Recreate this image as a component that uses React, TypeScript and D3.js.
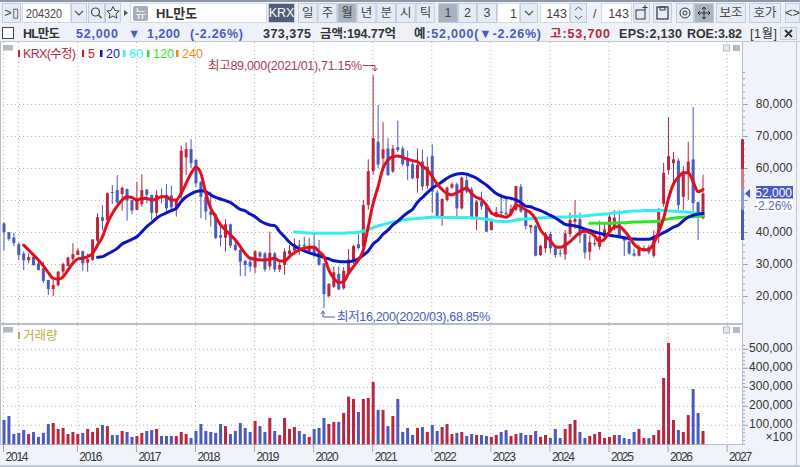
import * as d3 from "d3";

const width = 800;
const height = 467;

// prices in thousand won, one candle per month
const opens = [
  42.7, 39.9, 38.3, 36.2, 33.3, 31.2, 32.3, 30.2, 28.6, 25,
  22.2, 23.4, 27.6, 29.4, 31.6, 32.8, 34, 30.4, 31.3, 37.3,
  44.6, 43.7, 52.5, 53.1, 51.9, 53.4, 50, 46.9, 48.7, 53.3,
  51.6, 46, 51.4, 51.6, 51.4, 47.4, 51.6, 63.3, 65.9, 62.5,
  55.7, 51, 46.4, 45.5, 39, 38.2, 42.4, 36, 34.4, 31,
  30.7, 28.9, 33.6, 33.3, 29.2, 33.3, 28.3, 29.7, 33.1, 34.2,
  36, 36, 33.9, 35.7, 33.9, 30.2, 20, 22.9, 26.9, 22.4,
  27.1, 30.7, 36.2, 35.4, 48.4, 59, 68.2, 63, 66.1, 58.9,
  66.5, 66.1, 63, 61.2, 56.8, 62, 54.4, 63.8, 52.3, 45,
  50, 53.9, 54.9, 47.4, 56.2, 53.3, 44.8, 49.5, 48.7, 40.6,
  44.8, 46.4, 46, 45.8, 46.9, 54.2, 46.7, 41.4, 41.9, 32.8,
  34.9, 39.4, 34.9, 33.4, 33, 39.4, 43.2, 44, 39.4, 33.8,
  36.2, 35.4, 38.5, 40.1, 41.5, 43.2, 38.5, 37, 33.3, 32.6,
  34.5, 35.2, 32.6, 38.5, 48.8, 59.4, 61.5, 62.3, 51, 58.3,
  62.7, 49.3, 44.3,
];
const closes = [
  39.9, 37.8, 36.5, 32.8, 31.2, 32.2, 29.7, 28.1, 24.7, 22.2,
  23.4, 27.6, 30, 32, 33.1, 34.2, 30.2, 31.5, 37.7, 44.6,
  43.5, 52.1, 52.3, 49.2, 53.8, 49.8, 46.7, 50, 53.1, 51.6,
  46, 51.6, 51.2, 47.4, 47.7, 50, 65.4, 65.9, 61.5, 55.2,
  51, 46.4, 45.3, 38.2, 38.2, 42.4, 35.7, 34.4, 30.7, 29.7,
  29.2, 33.9, 32.3, 28.3, 33.5, 28.3, 29.7, 33.9, 34.2, 36.2,
  35.8, 35.5, 35.7, 32.8, 29.7, 20.6, 23.8, 27.4, 22.1, 27.9,
  31.4, 35.6, 35, 48.4, 59, 69.3, 61.1, 65.8, 57.8, 66.1,
  65.6, 61.2, 60.6, 56.8, 61, 54.2, 60.4, 52.6, 45, 50.3,
  53.9, 54.9, 47.4, 57, 52.6, 44.6, 49.5, 48, 40.1, 43.8,
  46.3, 45.9, 45.5, 47.2, 54.4, 46.4, 41.9, 42.2, 32.6, 35.7,
  39.4, 34.9, 32.8, 33.1, 39.6, 43.8, 44, 38.9, 33.6, 36.8,
  36.5, 38.7, 40.8, 44.8, 44.5, 38.5, 37.3, 33.3, 32.6, 35.2,
  35, 33.6, 38.5, 46.7, 58.5, 63.7, 62.7, 48.4, 58.9, 62,
  49, 45.3, 52,
];
const highs = [
  43, 40, 39.8, 36.7, 33.9, 33.3, 32.8, 30.7, 30.7, 25,
  25, 27.9, 30.4, 32.3, 36.5, 34.9, 34.2, 33.3, 37.7, 45.9,
  48.4, 52.4, 54.7, 57.8, 54.2, 53.6, 50, 55.7, 58.1, 53.3,
  51.6, 53.1, 53.6, 55, 54.4, 50.5, 67, 68, 69, 62.8,
  56, 51.2, 52.6, 46, 43.2, 44, 42.6, 37.5, 34.6, 31.2,
  32.3, 34.4, 34, 33.8, 40.1, 33.8, 30.5, 34.9, 36, 38,
  37.5, 38.5, 38.2, 39.6, 37.5, 30.2, 24, 29.2, 29.2, 29,
  34.7, 36, 39.5, 50, 62.7, 89, 79.7, 74.3, 69.3, 67.2,
  74.8, 66.8, 65.4, 62, 66.1, 65.8, 63.5, 67.4, 53, 50.5,
  54.2, 55.5, 55.5, 57.3, 58.5, 54, 50, 52.6, 49, 43.9,
  47.8, 51, 50.5, 48.5, 54.4, 55, 46.7, 42.2, 42.3, 36,
  40, 40.1, 36, 34.6, 40.6, 46, 50, 46, 39.8, 39,
  38, 43.5, 42.5, 46.2, 46.8, 46.8, 38.7, 38, 34.8, 36,
  35.8, 36, 40.5, 47.5, 61.6, 75.9, 65, 63, 60.6, 68.2,
  79, 49.5, 57.9,
];
const lows = [
  34.2, 37.3, 35.6, 31.2, 28.1, 30.2, 29.4, 28, 24, 20.3,
  20, 22.9, 26, 29.2, 30.7, 32.8, 27.9, 27.6, 31, 36.8,
  40.6, 43, 48.7, 48.8, 46.7, 43.5, 45.6, 46.9, 47.9, 49,
  43.7, 44.8, 49, 45.8, 47, 44.8, 50, 57.8, 60, 54,
  44.3, 43.7, 41.7, 37.8, 35.4, 33.9, 35, 34, 26.2, 26.2,
  27.6, 27.1, 31.5, 27.6, 28.1, 27.5, 27.5, 26.6, 32, 33,
  32.8, 34, 34, 32, 29.5, 16.2, 19.5, 22.5, 21.8, 22,
  26.5, 30, 34.5, 34, 47, 58, 60, 60, 57.5, 58.5,
  65, 60.5, 56.2, 56.5, 52.3, 53, 53.5, 46, 44.6, 42,
  49.5, 53.5, 44, 47, 52, 44, 40.6, 47, 40.1, 40.6,
  44.5, 45.2, 45, 45, 46.5, 46, 40.8, 39.6, 32.4, 32.5,
  33.5, 33.3, 32, 32.3, 31.3, 38.5, 41, 36.5, 31.7, 31.2,
  35.5, 34.5, 37, 39.5, 40.5, 38, 32.5, 32.9, 32.3, 32.4,
  34, 33, 32, 36.5, 47.8, 58, 55.6, 47, 47, 50,
  45, 37.5, 44,
];
// volume, same unit as the axis labels divided by 1000
const volumes = [
  128, 149, 54, 60, 75, 54, 65, 39, 60, 107,
  112, 81, 86, 54, 65, 54, 60, 81, 65, 86,
  102, 96, 49, 49, 70, 65, 39, 44, 60, 70,
  75, 81, 44, 44, 44, 44, 65, 54, 33, 70,
  107, 70, 65, 60, 107, 96, 54, 70, 112, 86,
  65, 123, 96, 65, 139, 70, 49, 139, 81, 91,
  70, 54, 39, 81, 86, 139, 107, 118, 118, 165,
  251, 239, 170, 239, 244, 328, 181, 181, 96, 149,
  239, 65, 86, 49, 86, 91, 65, 102, 70, 91,
  107, 54, 60, 65, 44, 54, 49, 49, 44, 39,
  49, 65, 75, 44, 54, 60, 49, 49, 70, 39,
  49, 33, 81, 33, 81, 107, 128, 65, 33, 44,
  54, 65, 33, 39, 49, 49, 33, 28, 65, 81,
  33, 33, 49, 75, 349, 533, 128, 75, 65, 154,
  291, 165, 70,
];

// moving averages, each starts at the month given by its offset
const ma5Start = 4;
const ma5 = [
  35.9, 34.4, 32.8, 31.25, 29.4, 27.3, 25.5, 25.3, 26, 28.1,
  30.2, 31.6, 31.8, 32.3, 33.3, 35.9, 38.5, 42.7, 45.8, 48.1,
  50, 51, 50.8, 50, 50.5, 50.5, 50, 50.3, 51, 51,
  50, 50, 52.1, 55.2, 58.3, 60.2, 58.3, 52.1, 47.4, 44.8,
  42.2, 40.6, 39.1, 37.5, 35.4, 33.3, 31.8, 31.5, 31.25, 31.25,
  31.5, 31.8, 30.9, 30.9, 32.3, 33.5, 34.4, 34.9, 35.2, 35.2,
  33.9, 32.3, 28.1, 25.5, 24.2, 24.5, 27.1, 29.2, 31.25, 34.4,
  41.7, 49, 54.2, 59.9, 62.5, 63.5, 63.75, 63.3, 62.7, 62.3,
  62, 60.6, 59.4, 57.3, 55, 53.3, 52, 51.6, 52.3, 53.1,
  53.7, 52, 50.8, 50.2, 48.4, 46, 45.3, 45, 44.6, 45.8,
  48.4, 47.9, 46.9, 46, 44, 40.6, 38.8, 37.3, 35.4, 35.2,
  35.9, 37, 38.5, 39.8, 40.2, 39.8, 38.8, 37, 37.8, 40.1,
  41.5, 41.7, 40.4, 38.5, 36.2, 34.9, 34.4, 34.6, 36.5, 40.1,
  44.3, 50.5, 55, 57.1, 58.5, 58.5, 55.7, 52.6, 53.3,
];
const ma20Start = 19;
const ma20 = [
  32.1, 32.3, 33.1, 33.9, 34.9, 36.25, 37, 37.7, 38.5, 40.1,
  41.7, 42.9, 44.3, 45.3, 46, 46.7, 47.4, 49.5, 51, 51.9,
  52.6, 52.9, 52.6, 51.6, 50.8, 50.3, 49.8, 49.2, 48.1, 47.1,
  46.6, 45.6, 44.8, 43.5, 42.7, 42.2, 42, 40.1, 38.5, 36.8,
  35.6, 34.8, 34.1, 33.5, 33, 32.6, 32, 31.6, 31, 30.8,
  30.7, 30.7, 31, 31.6, 32.8, 34.1, 36.25, 37.5, 39.3, 40.6,
  42.2, 43.4, 44.8, 46, 47.1, 49.3, 50.8, 52.3, 53.7, 54.7,
  55.7, 56.8, 57.6, 58.1, 58.3, 58.1, 57.5, 56.8, 55.7, 54.7,
  53.3, 52, 51.25, 50.8, 50.5, 50, 49.2, 48.1, 47.9, 47.2,
  46.7, 46, 45.2, 44.4, 43.4, 42.4, 42.1, 41.9, 41.5, 40.9,
  40.5, 40, 39.6, 39.2, 39, 38.75, 38.5, 38.2, 38, 37.8,
  37.7, 37.7, 37.7, 38.3, 39, 39.8, 40.6, 41.5, 42.2, 43.5,
  44.6, 45.2, 45.6, 45.8,
];
const ma60Start = 59;
const ma60 = [
  40.1, 39.9, 39.8, 39.7, 39.6, 39.6, 39.6, 39.6, 39.6, 39.6,
  39.6, 39.8, 39.8, 39.9, 40.3, 40.8, 41.35, 41.9, 42.3, 42.7,
  43.1, 43.4, 43.75, 44, 44.1, 44.2, 44.4, 44.5, 44.6, 44.6,
  44.5, 44.5, 44.5, 44.5, 44.5, 44.5, 44.4, 44.3, 44.2, 44,
  43.75, 43.4, 43.3, 43.3, 43.4, 43.75, 44, 44.1, 44.2, 44.3,
  44.4, 44.5, 44.6, 44.6, 44.7, 44.7, 44.8, 44.9, 44.9, 45,
  45.2, 45.4, 45.5, 45.6, 45.7, 46, 46, 46.3, 46.5, 46.6,
  46.6, 46.7, 46.7, 46.7, 46.7, 46.7, 46.6, 46.5, 46.4, 46.3,
  46.2, 46, 45.7, 45.6,
];
const ma120Start = 119;
const ma120 = [
  42.7, 42.7, 42.7, 42.7, 42.7, 42.8, 42.9, 42.9, 43, 43.1,
  43.1, 43.2, 43.2, 43.3, 43.4, 43.75, 44.1, 44.3, 44.5, 44.6,
  44.7, 44.8, 44.9, 45,
];

const priceTicks = [20, 30, 40, 50, 60, 70, 80];
const priceLabels = [20, 30, 40, 60, 70, 80];
const priceMinorTicks = d3.range(18, 92, 2);
const volumeTicks = [100, 200, 300, 400, 500];
const volumeMinorTicks = d3.range(0, 540, 20);
const yearTickMonths = [0, 15, 27, 39, 51, 63, 75, 87, 99, 111, 123, 135, 147];
const yearLabels = ["2014", "2016", "2017", "2018", "2019", "2020", "2021", "2022", "2023", "2024", "2025", "2026", "2027"];
const periodTabs = ["일", "주", "월", "년", "분", "시", "틱"];

const RED = "#b8263f";
const BLUE = "#4a5bbd";
const GRID = "#b4b4b4";
const FONT = "'Liberation Sans', 'Noto Sans CJK KR', sans-serif";

const x = d3.scaleLinear([0, 142], [4, 703]);
const y = d3.scaleLinear([20, 80], [296, 104]);
const yVol = d3.scaleLinear([0, 500], [444.3, 349.3]);

function maPath(values: number[], start: number) {
  const line = d3.line<number>()
    .x((_, i) => x(i + start))
    .y((d) => y(d))
    .curve(d3.curveMonotoneX);
  return line(values) ?? undefined;
}

function Btn({ bx, w, active, label, dark }: { bx: number; w: number; active?: boolean; label?: string; dark?: boolean }) {
  const fill = dark ? "#4f5d7c" : active ? "#a9b2bf" : "#e6ecf5";
  return (
    <g>
      <rect x={bx + 0.5} y={3.5} width={w - 1} height={19} fill={fill} stroke="#c3ccd9" />
      {label && (
        <text x={bx + w / 2} y={17} textAnchor="middle" fontSize={12.5} fill={dark ? "#fff" : "#444"}>{label}</text>
      )}
    </g>
  );
}

function Input({ bx, w, label }: { bx: number; w: number; label: string }) {
  return (
    <g>
      <rect x={bx + 0.5} y={3.5} width={w - 1} height={19} fill="#fff" stroke="#d4dae4" />
      <text x={bx + w - 3} y={18} textAnchor="end" fontSize={12.5} fill="#444">{label}</text>
    </g>
  );
}

function PaneButtons({ top }: { top: number }) {
  return (
    <g>
      <rect x={723.5} y={top} width={6} height={6} fill="#e4e8ee" stroke="#b5bac2" />
      <rect x={733} y={top} width={7} height={6} fill="#b5bac2" />
    </g>
  );
}

export default function App() {
  const verticalGrid = yearTickMonths.map((m) => x(m) - 1);
  return (
    <svg width={width} height={height} viewBox={`0 0 ${width} ${height}`} fontFamily={FONT}
      style={{ position: "absolute", left: 0, top: 0 }}>
      <rect width={width} height={height} fill="#fff" />

      {/* toolbar */}
      <rect width={width} height={24} fill="#eef2f8" />
      <rect width={width} height={2} fill="#8d99a8" />
      <Btn bx={2} w={19} label=">▯" />
      <rect x={22.5} y={3.5} width={48} height={19} fill="#fff" stroke="#d4dae4" />
      <text x={26} y={18} fontSize={12.5} fill="#444" textLength={36} lengthAdjust="spacingAndGlyphs">204320</text>
      <Btn bx={71} w={16} />
      <path d="M75 11l4 4 4-4" fill="none" stroke="#555" strokeWidth={1.2} />
      <Btn bx={88} w={17} />
      <circle cx={95.5} cy={12} r={4} fill="none" stroke="#444" strokeWidth={1.2} />
      <path d="M98.5 15l3 3" stroke="#444" strokeWidth={1.4} />
      <Btn bx={105} w={16} />
      <path d="M113 6.5l1.9 4 4.3.5-3.2 2.9.9 4.3-3.9-2.2-3.9 2.2.9-4.3-3.2-2.9 4.3-.5z" fill="none" stroke="#444" />
      <path d="M124 10l4 3-4 3z" fill="#555" />
      <rect x={130.5} y={3.5} width={136} height={19} fill="#fff" stroke="#d4dae4" />
      <rect x={133} y={6} width={15} height={15} rx={2} fill="#a5adbb" />
      <text x={140.5} y={17.5} textAnchor="middle" fontSize={12} fill="#fff">뉴</text>
      <text x={156} y={17.5} fontSize={13} fontWeight="bold" fill="#333">HL만도</text>
      <Btn bx={268} w={27} label="KRX" dark />
      {periodTabs.map((t, i) => (
        <Btn key={t} bx={298 + i * 19.6} w={19.6} label={t} active={t === "월"} />
      ))}
      <Btn bx={438} w={20} label="1" active />
      <Btn bx={458} w={19} label="2" />
      <Btn bx={477} w={20} label="3" />
      <Input bx={497} w={23} label="1" />
      <Btn bx={520} w={18} />
      <path d="M525 11l4 4 4-4" fill="none" stroke="#555" strokeWidth={1.2} />
      <Input bx={540} w={30} label="143" />
      <Btn bx={570} w={17} />
      <path d="M575 10l3.500-3 3.500 3M575 16l3.500 3 3.500-3" fill="none" stroke="#555" />
      <text x={593} y={18} fontSize={12.5} fill="#444">/</text>
      <Input bx={601} w={31} label="143" />
      <Btn bx={633} w={17} />
      <rect x={636} y={10} width={9} height={9} fill="none" stroke="#333" />
      <path d="M645 5v5M642.500 7.500h5" stroke="#333" />
      <Btn bx={653} w={19} />
      <rect x={657} y={7} width={11} height={12} fill="none" stroke="#333" strokeWidth={1.2} />
      <rect x={660} y={7} width={5} height={3} fill="none" stroke="#333" />
      <Btn bx={676} w={18} />
      <circle cx={685} cy={13} r={5} fill="none" stroke="#333" />
      <circle cx={685} cy={13} r={2} fill="none" stroke="#333" />
      <Btn bx={694} w={20} active />
      <path d="M704 7v12M698 13h12M702 9l2-2 2 2M702 17l2 2 2-2M700 11l-2 2 2 2M708 11l2 2-2 2" fill="none" stroke="#333" />
      <Btn bx={716} w={30} label="보조" />
      <Btn bx={749} w={32} label="호가" />
      <Btn bx={785} w={15} label="<>" />

      {/* info row */}
      <rect y={24} width={width} height={18} fill="#eef2f8" />
      <rect y={41} width={width} height={1} fill="#c2c9d3" />
      <rect x={2.5} y={27.5} width={11} height={11} fill="#fff" stroke="#444" />
      <g fontSize={12.5} fontWeight="bold" fill="#333">
        <text x={23} y={38} textLength={37}>HL만도</text>
        <text x={76} y={38} fill={BLUE} textLength={42}>52,000</text>
        <text x={128} y={38} fill={BLUE}>▼</text>
        <text x={147} y={38} fill={BLUE} textLength={33}>1,200</text>
        <text x={190} y={38} fill={BLUE} textLength={53}>(-2.26%)</text>
        <text x={263} y={38} textLength={48}>373,375</text>
        <text x={320} y={38} textLength={76}>금액:194.77억</text>
        <text x={414} y={38} textLength={127}>예<tspan fill={BLUE}>:52,000(▼-2.26%)</tspan></text>
        <text x={550} y={38} fill={RED} textLength={60}>고:53,700</text>
        <text x={619} y={38} textLength={63}>EPS:2,130</text>
        <text x={687} y={38} textLength={55}>ROE:3.82</text>
        <text x={750} y={38} fontWeight="normal" textLength={27}>[1월]</text>
      </g>
      <rect x={780.5} y={27.5} width={16} height={12} fill="#e6ecf5" stroke="#c3ccd9" />
      <path d="M785 30l7 7M792 30l-7 7" stroke="#333" strokeWidth={1.8} />

      {/* right scale panel and bottom axis band */}
      <rect x={742} y={42} width={58} height={425} fill="#f0f4fa" />
      <rect y={445} width={width} height={20} fill="#f0f4fa" />
      <rect y={465} width={width} height={2} fill="#c2c9d3" />
      <rect x={742} y={42} width={1} height={403} fill="#b9bfc8" />
      <rect x={796} y={42} width={1} height={425} fill="#c2c9d3" />
      <rect y={323} width={742} height={2} fill="#b9bfc8" />
      <rect y={444} width={742} height={1} fill="#b9bfc8" />
      <rect x={0} y={42} width={1} height={403} fill="#b9bfc8" />

      {/* grid */}
      <g stroke={GRID} strokeDasharray="1 3">
        {priceTicks.map((t) => (
          <line key={t} x1={3} x2={742} y1={y(t) + 0.5} y2={y(t) + 0.5} />
        ))}
        {volumeTicks.map((t) => (
          <line key={t} x1={3} x2={742} y1={yVol(t)} y2={yVol(t)} />
        ))}
        {verticalGrid.map((g) => (
          <g key={g}>
            <line x1={g + 0.5} x2={g + 0.5} y1={42} y2={323} />
            <line x1={g + 0.5} x2={g + 0.5} y1={325} y2={444} />
          </g>
        ))}
        <line x1={18.5} x2={18.5} y1={42} y2={323} />
        <line x1={18.5} x2={18.5} y1={325} y2={444} />
      </g>

      {/* candles */}
      {opens.map((o, i) => {
        const c = closes[i];
        const color = c >= o ? RED : BLUE;
        const top = y(Math.max(o, c));
        const h = Math.max(1, Math.abs(y(o) - y(c)));
        return (
          <g key={i} fill={color} stroke="none">
            <rect x={x(i) - 0.5} y={y(highs[i])} width={1} height={y(lows[i]) - y(highs[i])} />
            <rect x={x(i) - 1.5} y={top} width={3} height={h} />
          </g>
        );
      })}

      {/* moving averages */}
      <g fill="none" strokeLinejoin="round" strokeLinecap="round">
        <path d={maPath(ma60, ma60Start)} stroke="#32eef0" strokeWidth={3} />
        <path d={maPath(ma120, ma120Start)} stroke="#2ee62a" strokeWidth={3} />
        <path d={maPath(ma20, ma20Start)} stroke="#0d14c4" strokeWidth={3} />
        <path d={maPath(ma5, ma5Start)} stroke="#e20f1e" strokeWidth={3} />
      </g>

      {/* volume */}
      {volumes.map((v, i) => (
        <rect key={i} x={x(i) - 1.5} y={yVol(v)} width={3} height={yVol(0) - yVol(v)}
          fill={closes[i] >= opens[i] ? RED : BLUE} />
      ))}

      {/* legend */}
      <rect x={3} y={45} width={10} height={5.500} fill="#b5bac2" />
      <g fontSize={12.5}>
        <rect x={18} y={50} width={2} height={7} fill={RED} />
        <text x={23} y={58} fill={RED} textLength={53}>KRX(수정)</text>
        <rect x={82} y={50} width={2} height={7} fill="#e20f1e" />
        <text x={88} y={58} fill="#e20f1e">5</text>
        <rect x={100} y={50} width={2.500} height={7} fill="#0d14c4" />
        <text x={106} y={58} fill="#0d14c4">20</text>
        <rect x={123} y={50} width={2.500} height={7} fill="#32eef0" />
        <text x={129} y={58} fill="#32eef0">60</text>
        <rect x={147} y={50} width={2.500} height={7} fill="#2ee62a" />
        <text x={153} y={58} fill="#2ee62a">120</text>
        <rect x={176} y={50} width={2.500} height={7} fill="#f08a20" />
        <text x={182} y={58} fill="#f08a20">240</text>
      </g>
      <rect x={3} y={327} width={10} height={5.500} fill="#b5bac2" />
      <rect x={18} y={332} width={2} height={7} fill="#bcb040" />
      <text x={23} y={340} fontSize={12.5} fill="#bcb040">거래량</text>
      <PaneButtons top={45} />
      <PaneButtons top={327} />

      {/* high and low notes */}
      <text x={208} y={70} fontSize={12.5} fill="#a83c58" textLength={154}>최고89,000(2021/01),71.15%</text>
      <path d="M363 65.500h12v5M372.500 68l2.500 3 2.500-3" fill="none" stroke="#a83c58" />
      <path d="M323 312v5h12M321 314l2-3 2 3" fill="none" stroke="#4a5bbd" />
      <text x={337} y={321} fontSize={12.5} fill="#4a5bbd" textLength={153}>최저16,200(2020/03),68.85%</text>

      {/* right axis labels and ticks */}
      <g fontSize={12} fill="#333" textAnchor="end">
        {priceLabels.map((t) => (
          <text key={t} x={792.5} y={y(t) + 4}>{d3.format(",")(t * 1000)}</text>
        ))}
        {volumeTicks.map((t) => (
          <text key={t} x={792.5} y={yVol(t) + 2.5}>{d3.format(",")(t * 1000)}</text>
        ))}
        <text x={792.5} y={441}>×100</text>
      </g>
      <g stroke="#9aa4b4">
        {priceMinorTicks.map((t) => (
          <line key={t} x1={743} x2={745} y1={y(t) + 0.5} y2={y(t) + 0.5} />
        ))}
        {priceTicks.map((t) => (
          <line key={t} x1={743} x2={748} y1={y(t) + 0.5} y2={y(t) + 0.5} />
        ))}
        {volumeMinorTicks.map((t) => (
          <line key={t} x1={743} x2={745} y1={yVol(t)} y2={yVol(t)} />
        ))}
        {volumeTicks.map((t) => (
          <line key={t} x1={743} x2={748} y1={yVol(t)} y2={yVol(t)} />
        ))}
      </g>

      {/* current price range bar and marker */}
      <rect x={741} y={y(69)} width={3} height={y(59.5) - y(69)} fill={RED} />
      <rect x={741} y={y(59.5)} width={3} height={y(53.5) - y(59.5)} fill="#d4788a" />
      <rect x={741} y={y(53.5)} width={3} height={y(47) - y(53.5)} fill="#8f9bd8" />
      <rect x={741} y={y(47)} width={3} height={y(37.500) - y(47)} fill={BLUE} />
      <path d={`M745 ${y(52)}l5-4.500v9z`} fill={BLUE} />
      <rect x={756} y={186} width={37} height={12.500} fill={BLUE} />
      <text x={792} y={196.500} textAnchor="end" fontSize={12} fill="#fff">52,000</text>
      <rect x={756} y={199} width={37} height={13} fill="#fff" />
      <text x={792} y={210} textAnchor="end" fontSize={12} fill="#5c6bb0">-2.26%</text>

      {/* time axis */}
      {yearTickMonths.map((m, i) => (
        <g key={m}>
          <line x1={x(m) - 0.5} x2={x(m) - 0.5} y1={445} y2={452} stroke="#9aa4b4" />
          <text x={x(m) + 1.5} y={461} fontSize={12} fill="#333" textLength={23}>{yearLabels[i]}</text>
        </g>
      ))}
    </svg>
  );
}
